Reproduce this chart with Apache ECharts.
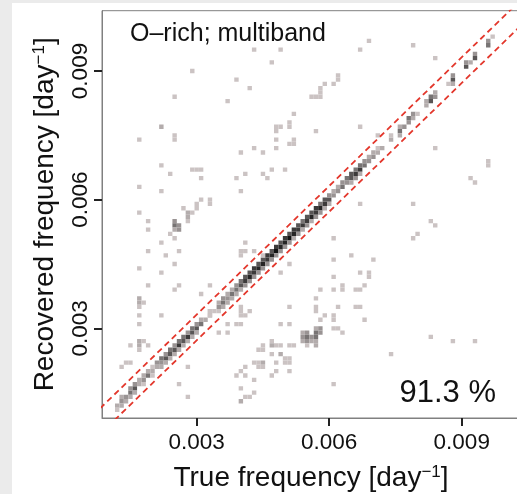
<!DOCTYPE html>
<html><head><meta charset="utf-8">
<script src="https://cdn.jsdelivr.net/npm/echarts@6/dist/echarts.min.js"></script>
<style>
html,body{margin:0;padding:0;background:#ebebeb;width:517px;height:494px;overflow:hidden}
#chart{position:absolute;left:12px;top:3px;width:505px;height:491px;background:#fff}
</style></head><body><div id="chart"></div>
<script>
// bin width of the 2-D histogram (day^-1); cells are given as [trueBin, recoveredBin, count]
const binWidth = 0.0001;
const xTicks = [0.003, 0.006, 0.009];
const yTicks = [0.003, 0.006, 0.009];
const xRange = [0.000856, 0.010319];
const yRange = [0.000909, 0.010406];
const refOffsets = [0.00032, -0.00028];
const panelLabel = 'O\u2013rich; multiband';
const recoveryRate = '91.3 %';

const diagonalCells = [
[12,12,2],[12,11,1],[13,13,3],[13,14,2],[13,12,2],[14,14,3],[14,13,2],[15,15,4],[15,16,3],[15,14,2],
[16,16,5],[16,17,3],[16,15,2],[17,17,2],[17,18,2],[18,18,3],[18,19,2],[18,17,1],[19,19,4],[19,20,2],
[20,20,2],[20,21,1],[20,19,1],[21,22,3],[21,21,2],[22,22,3],[22,23,4],[22,21,2],[23,23,5],[23,24,3],
[23,22,2],[24,24,5],[24,25,4],[24,23,2],[25,25,5],[25,26,3],[25,24,2],[26,26,6],[26,27,4],[26,25,2],
[27,27,5],[27,28,4],[27,26,2],[28,28,6],[28,29,3],[28,27,2],[29,29,5],[29,30,4],[29,28,2],[30,30,5],
[30,31,3],[30,29,2],[31,31,4],[31,32,2],[32,32,2],[33,33,2],[33,34,1],[34,34,1],[35,35,3],[35,36,2],
[35,34,1],[36,36,4],[36,37,3],[36,35,2],[37,37,3],[37,38,2],[37,36,2],[38,38,4],[38,39,2],[38,37,2],
[39,39,4],[39,40,3],[39,38,2],[40,40,5],[40,41,4],[40,39,2],[41,41,6],[41,42,5],[41,40,3],[42,42,7],
[42,43,5],[42,41,3],[43,43,6],[43,44,6],[43,42,3],[44,44,7],[44,45,5],[44,43,3],[45,45,7],[45,46,5],
[45,44,3],[46,46,6],[46,47,6],[46,45,3],[47,47,7],[47,48,5],[47,46,3],[48,48,8],[48,49,6],[48,47,3],
[49,49,7],[49,50,5],[49,48,3],[50,50,7],[50,51,6],[50,49,3],[51,51,8],[51,52,5],[51,50,3],[52,52,7],
[52,53,6],[52,51,2],[53,53,6],[53,54,5],[53,52,3],[54,54,6],[54,55,4],[54,53,2],[55,55,6],[55,56,5],
[55,54,3],[56,56,7],[56,57,5],[56,55,2],[57,57,6],[57,58,6],[57,56,3],[58,58,7],[58,59,4],[58,57,3],
[59,59,6],[59,60,5],[59,58,2],[60,60,5],[60,61,3],[60,59,2],[61,61,3],[61,62,2],[62,62,3],[62,63,2],
[63,63,4],[63,64,3],[64,64,3],[64,65,4],[65,65,5],[65,66,5],[65,64,2],[66,66,6],[66,67,4],[66,65,3],
[67,67,6],[67,68,4],[67,66,2],[68,68,4],[68,69,3],[69,69,3],[69,70,2],[70,70,3],[70,71,2],[71,71,2],
[71,72,1],[72,72,2],[74,74,2],[74,75,1],[76,76,4],[76,77,2],[76,75,2],[77,77,3],[78,78,3],[78,79,4],
[79,80,3],[79,79,2],[80,80,1],[82,82,2],[82,83,2],[83,83,5],[83,84,4],[84,84,3],[84,85,2],[87,87,1],
[88,88,5],[88,89,3],[88,87,2],[91,91,5],[91,92,3],[92,92,2],[93,93,5],[93,94,3],[96,96,4],[96,97,3],
[97,98,1]
];

const upperBandCells = [
[43,95,1],[49,95,1],[47,92,1],[29,90,1],[39,88,1],[42,86,1],[25,84,1],[37,83,1],[52,80,1],[22,77,2],
[25,75,1],[25,74,1],[17,74,1],[48,77,1],[48,76,1],[48,74,1],[49,77,1],[51,78,1],[51,77,1],[52,74,1],
[52,73,1],[40,71,1],[43,72,1],[45,71,1],[48,72,1],[51,73,1],[22,68,1],[24,66,1],[29,67,1],[30,67,1],
[31,67,1],[31,65,1],[39,65,1],[41,66,1],[45,66,1],[46,65,1],[47,67,1],[50,67,1],[17,63,1],[22,62,1],
[40,62,1],[31,60,1],[30,59,1],[33,60,1],[33,59,1],[27,58,1],[30,58,1],
[69,97,1],[67,95,1],[79,96,1],[84,93,1],[62,89,1],[62,88,1],[61,87,1],[59,87,1],[58,86,1],[58,85,1],
[57,84,1],[56,84,1],[58,84,1],[57,76,1],[67,77,1],[71,75,1],[84,72,1],[96,69,1],[96,68,1],[92,65,1],
[93,64,1],[67,59,1],[79,59,1],
[17,57,1],[19,55,1],[19,53,1],[28,57,2],[28,56,2],[28,55,1],[29,57,1],[25,55,3],[25,54,4],[26,54,3],
[25,53,2],[26,53,3],[24,52,1],[22,50,1],[25,51,1],[26,48,1],[19,48,1],[23,47,1],[25,45,1],[17,44,1],
[22,43,1],[19,40,1],[25,39,1],[31,38,1],[17,37,2],[17,36,2],[17,35,1],[18,36,1],[17,33,1],[17,31,1],
[22,33,1],[33,40,1],[33,34,1],[33,33,1],[17,27,2],[17,26,2],[17,25,1],[18,27,1],[19,26,1],[15,26,1],
[14,22,1],[15,22,1],[13,21,1],[28,21,1],[26,17,1],[28,14,1],[26,40,1]
];

const lowerBandCells = [
[41,50,1],[41,48,1],[40,48,1],[43,48,1],[45,47,1],[40,47,1],[51,45,1],[49,43,1],[40,35,1],[40,34,1],
[42,34,1],[40,33,1],[41,33,1],[37,31,1],[39,31,1],[40,31,1],[35,29,1],[37,29,1],[49,31,1],[51,35,1],
[51,31,1],
[45,26,1],[47,27,1],[47,26,2],[48,26,1],[49,26,1],[51,26,1],[52,26,1],[44,25,1],[45,25,1],[47,24,1],
[49,24,2],[50,23,1],[51,23,1],[44,22,1],[45,22,2],[43,22,1],[48,22,1],[50,22,1],[51,22,1],[44,21,1],
[45,21,1],[48,20,1],[51,20,1],[39,19,1],[40,20,1],[41,21,1],[41,19,1],[47,19,1],[43,18,1],[40,16,1],
[43,15,1],[40,13,2],[41,14,1],[42,14,1],
[83,55,1],[84,54,1],[80,52,1],[79,51,1],[61,51,1],[65,47,1],[61,46,1],[70,46,1],[67,43,1],[69,43,1],
[69,42,1],[61,42,1],[63,40,1],[63,39,1],[68,40,1],[58,39,1],[67,39,1],[66,39,1],[61,39,1],[57,37,1],
[57,35,1],[57,34,1],[62,35,1],[66,35,1],[67,35,1],[59,33,1],[61,33,1],[58,32,1],[61,32,1],[68,32,1],
[61,30,1],[62,30,1],[63,29,1],
[57,30,2],[58,30,3],[54,29,2],[55,29,3],[57,29,4],[58,29,3],[54,28,3],[55,28,4],[56,28,3],[57,28,4],
[54,27,2],[55,27,3],[56,27,2],[57,27,2],[55,26,1],[57,26,2],
[83,28,1],[88,27,1],[93,27,1],[74,24,1],[61,17,1]
];

const cells = diagonalCells.concat(upperBandCells, lowerBandCells)
  .map(c => [c[0] * binWidth, c[1] * binWidth, c[2]]);

const refLines = refOffsets.map(o => [[0, o], [0.012, 0.012 + o]]);

const chart = echarts.init(document.getElementById('chart'), null, {renderer: 'canvas'});
const FONT = 'Liberation Sans, Arial, Helvetica, sans-serif';

function renderCell(params, api) {
  const x = api.value(0), y = api.value(1);
  const p = api.coord([x - binWidth / 2, y + binWidth / 2]);
  const s = api.size([binWidth, binWidth]);
  const cs = params.coordSys;
  const rect = echarts.graphic.clipRectByRect(
    {x: p[0], y: p[1], width: s[0], height: s[1]},
    {x: cs.x, y: cs.y, width: cs.width, height: cs.height});
  if (!rect) return null;
  return {type: 'rect', shape: rect, style: {fill: api.visual('color')}};
}

const nameRich = {sup: {fontSize: 17, fontFamily: FONT, color: '#111', verticalAlign: 'top'}};

chart.setOption({
  animation: false,
  grid: {left: 90, top: 7.7, right: -3, bottom: 76, show: true, borderColor: '#808080', borderWidth: 1,
         outerBoundsMode: 'none', containLabel: false},
  visualMap: {show: false, type: 'continuous', dimension: 2, min: 1, max: 8, seriesIndex: 0,
              inRange: {color: ['#cbc3c3', '#a19b9b', '#686464', '#353333', '#121212']}},
  xAxis: {
    type: 'value', min: xRange[0], max: xRange[1],
    name: 'True frequency [day{sup|\u22121}]', nameLocation: 'middle', nameGap: 46,
    nameTextStyle: {fontSize: 28, fontFamily: FONT, color: '#111', rich: nameRich},
    axisLine: {show: true, lineStyle: {color: '#808080', width: 1}},
    axisTick: {show: true, length: 8, customValues: xTicks, lineStyle: {color: '#222', width: 2}},
    axisLabel: {customValues: xTicks, margin: 13, fontSize: 22.5, fontFamily: FONT, color: '#111',
                formatter: v => v.toFixed(3)},
    splitLine: {show: false}
  },
  yAxis: {
    type: 'value', min: yRange[0], max: yRange[1],
    name: 'Recovered frequency [day{sup|\u22121}]', nameLocation: 'middle', nameGap: 43,
    nameTextStyle: {fontSize: 28, fontFamily: FONT, color: '#111', rich: nameRich},
    axisLine: {show: true, lineStyle: {color: '#808080', width: 1}},
    axisTick: {show: true, length: 8, customValues: yTicks, lineStyle: {color: '#222', width: 2}},
    axisLabel: {customValues: yTicks, rotate: 90, margin: 10, fontSize: 22.5, fontFamily: FONT, color: '#111',
                formatter: v => v.toFixed(3)},
    splitLine: {show: false}
  },
  graphic: {elements: [
    {type: 'text', x: 118, y: 31.3, z: 100,
     style: {text: panelLabel, font: '25px ' + FONT, fill: '#111', textAlign: 'left', textVerticalAlign: 'middle'}},
    {type: 'text', x: 484, y: 390.3, z: 100,
     style: {text: recoveryRate, font: '31px ' + FONT, fill: '#111', textAlign: 'right', textVerticalAlign: 'middle'}}
  ]},
  series: [
    {type: 'custom', renderItem: renderCell, data: cells, encode: {x: 0, y: 1}, z: 2, clip: true},
    ...refLines.map(d => ({
      type: 'line', data: d, symbol: 'none', silent: true, z: 3, clip: true,
      lineStyle: {color: '#e3372c', width: 1.8, type: [6, 4]}
    }))
  ]
});
</script></body></html>
